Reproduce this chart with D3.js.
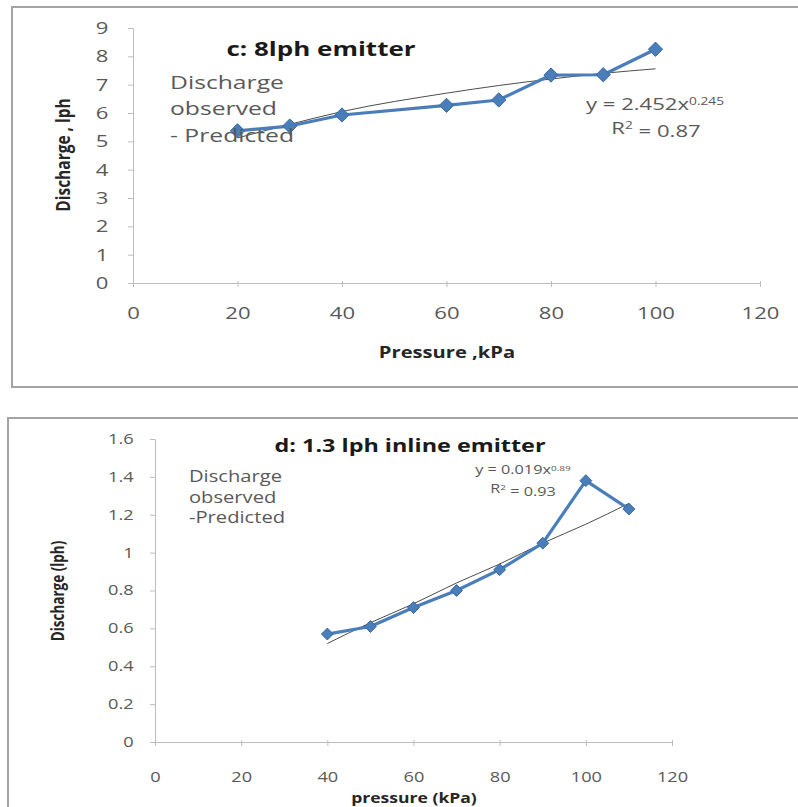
<!DOCTYPE html>
<html>
<head>
<meta charset="utf-8">
<script src="https://cdn.jsdelivr.net/npm/d3@7"></script>
<style>
	body { margin: 0; background: #fff; }
	svg { display: block; }
	text { font-family: 'Open Sans', sans-serif; }
</style>
</head>
<body>
<div id="chart"></div>
<script>
// data

// panel c: 8lph emitter
const pressureC = [20, 30, 40, 60, 70, 80, 90, 100]
const observedC = [5.37, 5.54, 5.93, 6.27, 6.46, 7.34, 7.35, 8.25]
const trendC = [5.12, 5.6, 6.05, 6.7, 6.97, 7.2, 7.4, 7.56]
const yTicksC = [0, 1, 2, 3, 4, 5, 6, 7, 8, 9]

// panel d: 1.3 lph inline emitter
const pressureD = [40, 50, 60, 70, 80, 90, 100, 110]
const observedD = [0.57, 0.61, 0.71, 0.8, 0.91, 1.05, 1.38, 1.23]
const trendD = [0.52, 0.63, 0.73, 0.84, 0.94, 1.05, 1.15, 1.26]
const yTicksD = [0, 0.2, 0.4, 0.6, 0.8, 1, 1.2, 1.4, 1.6]

const xTicks = [0, 20, 40, 60, 80, 100, 120]

// the source image is stretched sideways, text is widened to match
const SX = 1.3

const svg = d3
	.select('#chart')
	.append('svg')
	.attr('width', 798)
	.attr('height', 807)

function label(g, x, y, str, opts) {
	const t = g
		.append('text')
		.attr('transform', `translate(${x},${y}) scale(${SX},1)${opts.rotate ? ' rotate(-90)' : ''}`)
		.attr('dy', '0.35em')
		.attr('text-anchor', opts.anchor || 'start')
		.attr('font-size', opts.size)
		.attr('font-weight', opts.bold ? 'bold' : 'normal')
		.attr('fill', opts.color || '#595959')
	if (str) t.text(str)
	return t
}

function drawPanel(p) {
	const g = svg.append('g')

	// outer frame
	g.append('rect')
		.attr('x', p.frame[0])
		.attr('y', p.frame[1])
		.attr('width', p.frame[2])
		.attr('height', p.frame[3])
		.attr('fill', 'none')
		.attr('stroke', '#a3a3a3')
		.attr('stroke-width', 2)

	const x = d3.scaleLinear().domain([0, 120]).range([p.left, p.right])
	const y = d3.scaleLinear().domain(p.yDomain).range([p.bottom, p.top])

	const xAxis = g
		.append('g')
		.attr('transform', `translate(0,${p.bottom})`)
		.call(d3.axisBottom(x).tickValues(xTicks).tickSize(4).tickSizeOuter(0).tickPadding(p.xPad))
	const yAxis = g
		.append('g')
		.attr('transform', `translate(${p.left},0)`)
		.call(d3.axisLeft(y).tickValues(p.yTicks).tickSize(5).tickSizeOuter(0).tickPadding(p.yPad).tickFormat(d3.format('')))

	;[xAxis, yAxis].forEach((a) => {
		a.select('.domain').attr('stroke', '#bdbdbd')
		a.selectAll('line').attr('stroke', '#bdbdbd')
		a.selectAll('text')
			.attr('fill', '#595959')
			.attr('transform', `scale(${SX},1)`)
			.style('font-family', "'Open Sans', sans-serif")
			.style('font-size', p.tickFont + 'px')
	})
	xAxis.selectAll('line').attr('y1', -2)

	// trend line
	const trendLine = d3
		.line()
		.x((d, i) => x(p.pressure[i]))
		.y((d) => y(d))
		.curve(d3.curveMonotoneX)
	g.append('path')
		.datum(p.trend)
		.attr('fill', 'none')
		.attr('stroke', '#4d4d4d')
		.attr('stroke-width', 1)
		.attr('d', trendLine)

	// observed series
	const obsLine = d3
		.line()
		.x((d, i) => x(p.pressure[i]))
		.y((d) => y(d))
	g.append('path')
		.datum(p.observed)
		.attr('fill', 'none')
		.attr('stroke', '#4a7ebb')
		.attr('stroke-width', 3.2)
		.attr('stroke-linejoin', 'round')
		.attr('d', obsLine)

	const diamond = d3.symbol().type(d3.symbolDiamond2).size(p.marker)
	g.selectAll('.pt')
		.data(p.observed)
		.enter()
		.append('path')
		.attr('class', 'pt')
		.attr('transform', (d, i) => `translate(${x(p.pressure[i])},${y(d)})`)
		.attr('d', diamond)
		.attr('fill', '#4a7ebb')
		.attr('stroke', '#3b6aa0')
		.attr('stroke-width', 1)

	// title
	label(g, p.titlePos[0], p.titlePos[1], p.title, { anchor: 'middle', size: p.titleFont, bold: true, color: '#1a1a1a' })

	// legend text
	p.legend.forEach((t, i) => {
		label(g, p.legendPos[0], p.legendPos[1] + i * p.legendGap, t, { size: p.legendFont })
	})

	// equation and R squared
	const eq = label(g, p.eqPos[0], p.eqPos[1], null, { anchor: 'middle', size: p.eqFont })
	eq.append('tspan').text(p.eq[0])
	eq.append('tspan').attr('dy', '-0.45em').attr('font-size', p.eqFont * 0.62).text(p.eq[1])
	const r2 = label(g, p.eqPos[0] + p.r2Shift, p.eqPos[1] + p.eqGap, null, { anchor: 'middle', size: p.eqFont })
	r2.append('tspan').text('R')
	r2.append('tspan').attr('dy', '-0.45em').attr('font-size', p.eqFont * 0.62).text('2')
	r2.append('tspan').attr('dy', '0.45em').text(' = ' + p.r2)

	// axis titles
	label(g, p.xTitlePos[0], p.xTitlePos[1], p.xTitle, { anchor: 'middle', size: p.axisTitleFont, bold: true, color: '#262626' })
	label(g, p.yTitlePos[0], p.yTitlePos[1], p.yTitle, { anchor: 'middle', size: p.axisTitleFont, bold: true, color: '#262626', rotate: true })
}

drawPanel({
	frame: [12, 7, 800, 380],
	left: 133, right: 760, top: 28, bottom: 283,
	yDomain: [0, 9], yTicks: yTicksC,
	pressure: pressureC, observed: observedC, trend: trendC,
	tickFont: 17, xPad: 20, yPad: 14,
	marker: 130,
	title: 'c: 8lph emitter', titlePos: [321, 49], titleFont: 20,
	legend: ['Discharge', 'observed', '- Predicted'], legendPos: [170, 82], legendGap: 26.5, legendFont: 19,
	eq: ['y = 2.452x', '0.245'], eqPos: [655, 104], eqGap: 24, eqFont: 17, r2Shift: 1, r2: '0.87',
	xTitle: 'Pressure ,kPa', xTitlePos: [447, 353],
	yTitle: 'Discharge , lph', yTitlePos: [63, 155], axisTitleFont: 15.5
})

drawPanel({
	frame: [8, 418, 800, 400],
	left: 155, right: 672, top: 439, bottom: 742,
	yDomain: [0, 1.6], yTicks: yTicksD,
	pressure: pressureD, observed: observedD, trend: trendD,
	tickFont: 14, xPad: 26, yPad: 11.5,
	marker: 90,
	title: 'd: 1.3 lph inline emitter', titlePos: [410, 446], titleFont: 18,
	legend: ['Discharge', 'observed', '-Predicted'], legendPos: [189, 477], legendGap: 20.5, legendFont: 15.5,
	eq: ['y = 0.019x', '0.89'], eqPos: [523, 470], eqGap: 19, eqFont: 12.5, r2Shift: 0, r2: '0.93',
	xTitle: 'pressure  (kPa)', xTitlePos: [414, 798],
	yTitle: 'Discharge (lph)', yTitlePos: [58, 591], axisTitleFont: 13.5
})
</script>
</body>
</html>
